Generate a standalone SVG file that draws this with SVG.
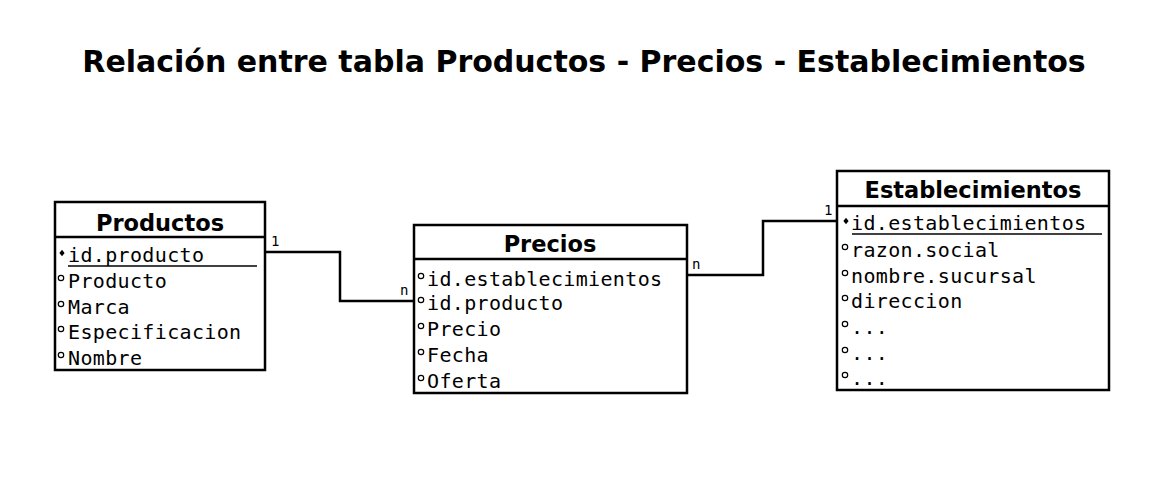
<svg xmlns="http://www.w3.org/2000/svg" width="1162" height="498" viewBox="0 0 1162 498">
<style>
.box{fill:#fff;stroke:#000;stroke-width:2.5}
.sep{stroke:#000;stroke-width:2.5}
.title{font-family:"DejaVu Sans",sans-serif;font-weight:bold;font-size:30px;fill:#000}
.hdr{font-family:"DejaVu Sans",sans-serif;font-weight:bold;font-size:22.5px;fill:#000;text-anchor:middle}
.attr{font-family:"DejaVu Sans Mono",monospace;font-size:20px;letter-spacing:0.35px;fill:#000}
.ul{stroke:#000;stroke-width:1.3}
.hb{fill:#fff;stroke:#000;stroke-width:1.2}
.kb{fill:#000}
.lbl{font-family:"DejaVu Sans Mono",monospace;font-size:14px;fill:#000}
.conn{fill:none;stroke:#000;stroke-width:2.5}
</style>
<defs>
<circle id="hol" r="2.7" class="hb"/>
<path id="key" d="M0,-3.2 L2.6,0 L0,3.2 L-2.6,0 Z" class="kb"/>
</defs>
<text class="title" x="584" y="72" text-anchor="middle">Relación entre tabla Productos - Precios - Establecimientos</text>

<g id="connectors">
<polyline class="conn" points="265,252 340,252 340,301 414,301"/>
<text class="lbl" x="271" y="246">1</text>
<text class="lbl" x="400" y="295">n</text>
<polyline class="conn" points="687,275 763,275 763,221 837,221"/>
<text class="lbl" x="692" y="269">n</text>
<text class="lbl" x="824" y="215">1</text>
</g>

<g id="productos">
<rect class="box" x="55" y="202" width="210" height="168"/>
<line class="sep" x1="55" y1="237" x2="265" y2="237"/>
<text class="hdr" x="160" y="231">Productos</text>
<use href="#key" x="62" y="253"/>
<text class="attr" x="68" y="262">id.producto</text>
<line class="ul" x1="68" y1="266" x2="257" y2="266"/>
<use href="#hol" x="61" y="278"/>
<text class="attr" x="68" y="288">Producto</text>
<use href="#hol" x="61" y="304"/>
<text class="attr" x="68" y="314">Marca</text>
<use href="#hol" x="61" y="329"/>
<text class="attr" x="68" y="339">Especificacion</text>
<use href="#hol" x="61" y="355"/>
<text class="attr" x="68" y="365">Nombre</text>
</g>

<g id="precios">
<rect class="box" x="414" y="225" width="273" height="168"/>
<line class="sep" x1="414" y1="259" x2="687" y2="259"/>
<text class="hdr" x="550" y="252">Precios</text>
<use href="#hol" x="421" y="276"/>
<text class="attr" x="427" y="286">id.establecimientos</text>
<use href="#hol" x="421" y="300"/>
<text class="attr" x="427" y="310">id.producto</text>
<use href="#hol" x="421" y="326"/>
<text class="attr" x="427" y="336">Precio</text>
<use href="#hol" x="421" y="352"/>
<text class="attr" x="427" y="362">Fecha</text>
<use href="#hol" x="421" y="378"/>
<text class="attr" x="427" y="388">Oferta</text>
</g>

<g id="establecimientos">
<rect class="box" x="837" y="171" width="272" height="219"/>
<line class="sep" x1="837" y1="206" x2="1109" y2="206"/>
<text class="hdr" x="973" y="198">Establecimientos</text>
<use href="#key" x="846" y="221"/>
<text class="attr" x="851" y="230">id.establecimientos</text>
<line class="ul" x1="852" y1="234" x2="1102" y2="234"/>
<use href="#hol" x="845" y="247"/>
<text class="attr" x="851" y="257">razon.social</text>
<use href="#hol" x="845" y="273"/>
<text class="attr" x="851" y="283">nombre.sucursal</text>
<use href="#hol" x="845" y="298"/>
<text class="attr" x="851" y="308">direccion</text>
<use href="#hol" x="845" y="324"/>
<text class="attr" x="851" y="334">...</text>
<use href="#hol" x="845" y="350"/>
<text class="attr" x="851" y="360">...</text>
<use href="#hol" x="845" y="375"/>
<text class="attr" x="851" y="385">...</text>
</g>
</svg>
